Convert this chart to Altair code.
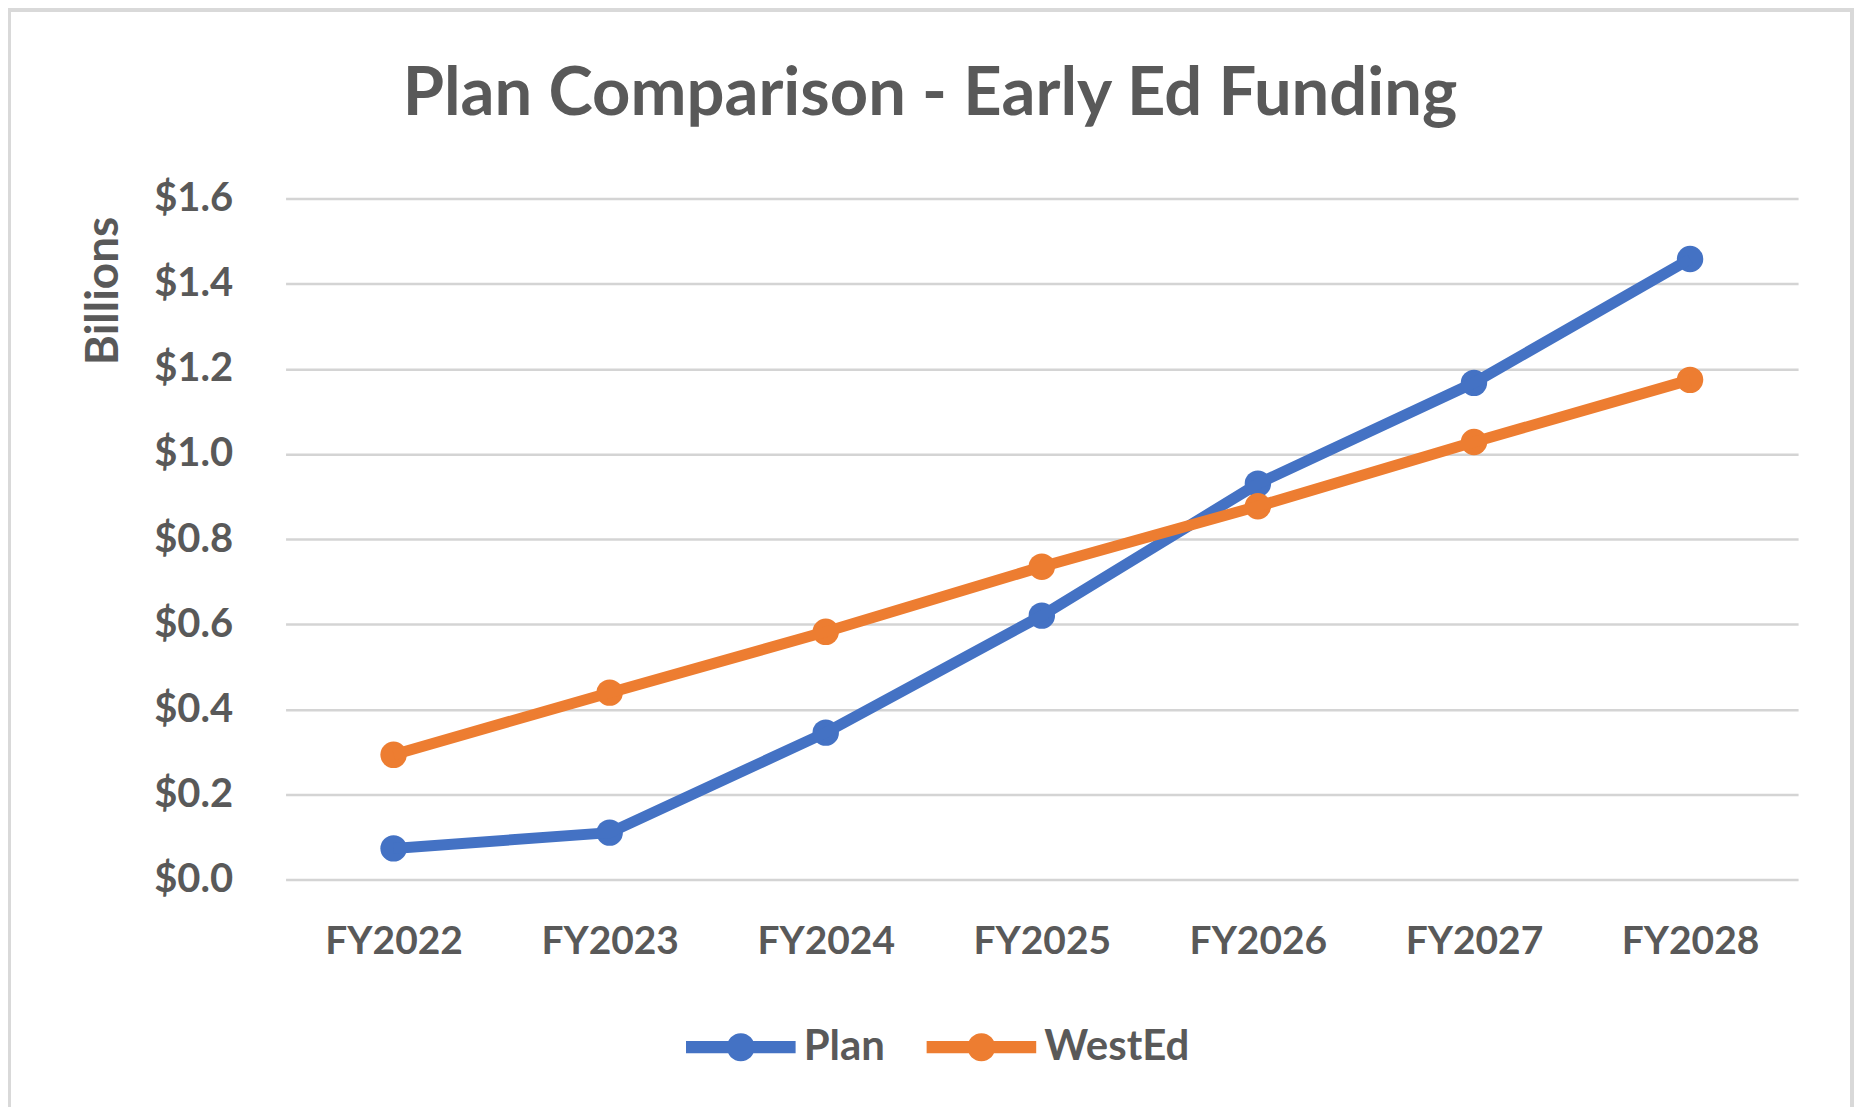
import altair as alt
import pandas as pd

years = ["FY2022", "FY2023", "FY2024", "FY2025", "FY2026", "FY2027", "FY2028"]
plan = [0.073, 0.110, 0.345, 0.620, 0.930, 1.167, 1.458]
wested = [0.293, 0.439, 0.582, 0.735, 0.877, 1.028, 1.174]
series = ["Plan", "WestEd"]
colors = ["#4472C4", "#ED7D31"]
y_ticks = [0, 0.2, 0.4, 0.6, 0.8, 1.0, 1.2, 1.4, 1.6]

rows = []
for s, vals in zip(series, [plan, wested]):
    for yr, v in zip(years, vals):
        rows.append({"Year": yr, "Value": v, "Series": s})
df = pd.DataFrame(rows)

FONT = "Lato"
TXT = "#595959"

W, H = 1515, 682
PAD_L, PAD_T = 278, 190

x_enc = alt.X(
    "Year:N",
    sort=years,
    scale=alt.Scale(padding=0.5),
    axis=alt.Axis(
        title=None, labelAngle=0, ticks=False, domain=False, grid=False,
        labelFont=FONT, labelFontSize=39, labelFontWeight="bold", labelColor=TXT,
        labelPadding=43,
    ),
)
y_enc = alt.Y(
    "Value:Q",
    scale=alt.Scale(domain=[0, 1.6], nice=False),
    axis=alt.Axis(
        values=y_ticks, format="$.1f", ticks=False, domain=False,
        gridColor="#D4D4D4", gridWidth=2.5,
        labelFont=FONT, labelFontSize=40, labelFontWeight="bold", labelColor=TXT,
        labelPadding=53,
        title="Billions", titleFont=FONT, titleFontSize=46, titleFontWeight="bold",
        titleColor=TXT, titleAngle=270, titleX=-182, titleY=92,
        titleAlign="center", titleBaseline="middle",
    ),
)

base = alt.Chart(df)
color_scale = alt.Scale(domain=series, range=colors)

legend_path = (
    "M-1.96,-0.22 L-0.4,-0.22 L-0.4,0.22 L-1.96,0.22 Z "
    "M0.4,-0.22 L1.96,-0.22 L1.96,0.22 L0.4,0.22 Z "
    "M0.5,0 A0.5,0.5 0 1,1 -0.5,0 A0.5,0.5 0 1,1 0.5,0 Z"
)

legend = alt.Legend(
    title=None, orient="none", direction="horizontal",
    legendX=428, legendY=822, padding=0,
    symbolType=legend_path, symbolSize=3136, symbolStrokeWidth=0,
    symbolOpacity=1,
    labelOffset=35, columnPadding=41,
    labelFont=FONT, labelFontSize=42, labelFontWeight="bold", labelColor=TXT,
)

points = base.mark_circle(size=700, opacity=1).encode(
    x=x_enc,
    y=y_enc,
    color=alt.Color("Series:N", scale=color_scale, legend=legend),
)

lines = base.mark_line(strokeWidth=11).encode(
    x=x_enc,
    y=y_enc,
    color=alt.Color("Series:N", scale=color_scale),
)

border = alt.Chart(pd.DataFrame({"a": [0]})).mark_rect(
    filled=False, stroke="#D9D9D9", strokeWidth=4
).encode(
    x=alt.value(-277), x2=alt.value(1569), y=alt.value(-189), y2=alt.value(950)
)

chart = (
    alt.layer(border, points, lines)
    .properties(
        width=W,
        height=H,
        padding={"left": PAD_L, "top": PAD_T, "right": 56, "bottom": 227},
        autosize=alt.AutoSizeParams(type="none"),
        background="white",
        title=alt.TitleParams(
            "Plan Comparison - Early Ed Funding",
            font=FONT, fontSize=67, fontWeight="bold", color=TXT,
            anchor="middle", frame="group", offset=-121, dx=-112,
        ),
    )
    .configure_view(stroke=None)
)

chart.save("out.html", embed_options={"renderer": "svg", "actions": False})
